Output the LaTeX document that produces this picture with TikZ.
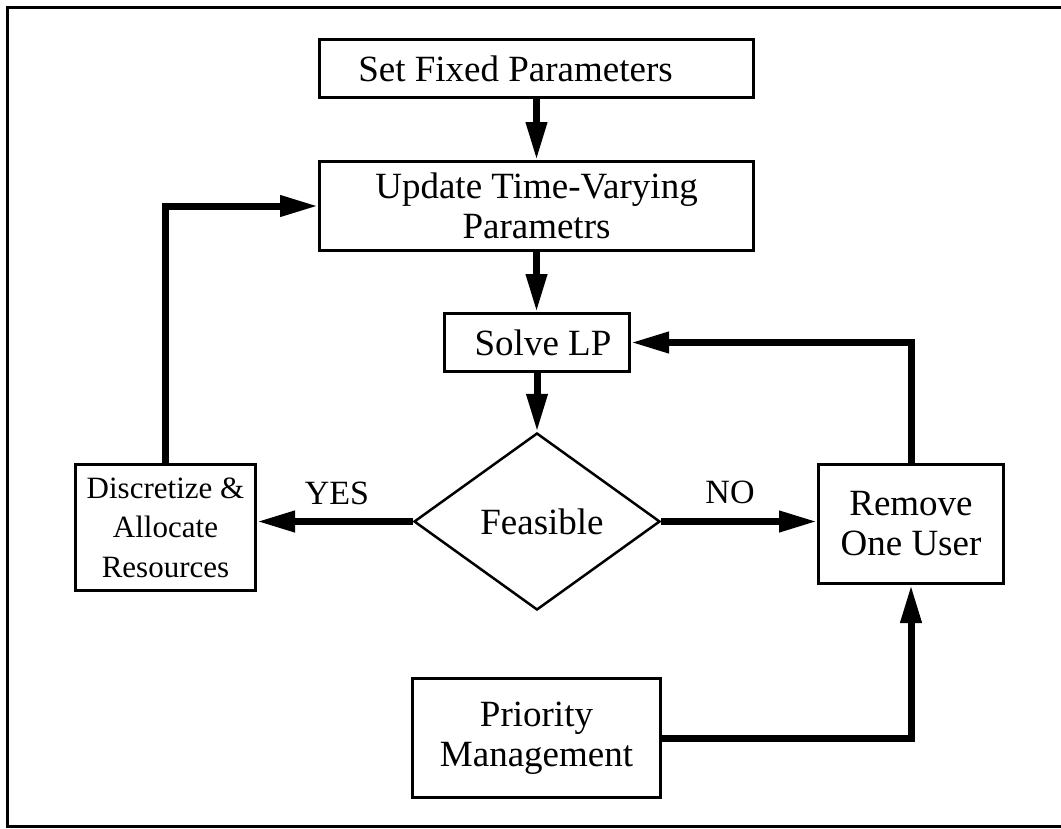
\documentclass[tikz,border=0pt]{standalone}
\usepackage{fontspec}
\setmainfont{Liberation Serif}
\usetikzlibrary{shapes.geometric,arrows.meta}
\begin{document}
\begin{tikzpicture}[x=1pt,y=-1pt,
  box/.style={draw, line width=3pt, rectangle, inner sep=0pt, align=center,
              font=\fontsize{37}{40}\selectfont},
  decision/.style={draw, diamond, line width=2.5pt, inner sep=0pt, aspect=1.39,
              font=\fontsize{37}{40}\selectfont},
  flow/.style={line width=7pt, line join=miter, -{Triangle[length=38pt,width=20pt]}},
  tag/.style={font=\fontsize{34}{40}\selectfont}
]
\useasboundingbox (0,0) rectangle (1061,828);

% surrounding frame (open on the right)
\draw[line width=3pt] (1061,7) -- (7,7) -- (7,826) -- (1061,826);

% process steps
\node[box, minimum width=434pt, minimum height=58pt] (fixed) at (536.5,68.5)
  {\hspace*{-42pt}Set Fixed Parameters};
\node[box, minimum width=434pt, minimum height=89pt] (update) at (536.5,206)
  {Update Time-Varying\\Parametrs};
\node[box, minimum width=185pt, minimum height=58pt] (solve) at (537,342.5)
  {\hspace*{12pt}Solve LP};
\node[decision, minimum width=246pt, minimum height=177pt] (feas) at (537,521.5)
  {\hspace*{10pt}Feasible};
\node[box, minimum width=180pt, minimum height=126pt,
      font=\fontsize{31}{39.5}\selectfont] (disc) at (165.5,527.5)
  {Discretize \&\\Allocate\\Resources};
\node[box, minimum width=185pt, minimum height=119pt] (remove) at (911,524)
  {Remove\\One User};
\node[box, minimum width=248pt, minimum height=119pt] (prio) at (536.5,738)
  {Priority\\Management};

% branch labels
\node[tag] (yes) at (337,493) {YES};
\node[tag] (no) at (730,492) {NO};

% connectors
\draw[flow] (fixed.south) -- (fixed.south |- update.north);
\draw[flow] (update.south) -- (update.south |- solve.north);
\draw[flow] (solve.south) -- (solve.south |- feas.north);
\draw[flow] (feas.west) -- (feas.west -| disc.east);
\draw[flow] (feas.east) -- (feas.east -| remove.west);
\draw[flow] (disc.north) |- (update.west);
\draw[flow] (remove.north) |- (solve.east);
\draw[flow] (prio.east) -| (remove.south);
\end{tikzpicture}
\end{document}
